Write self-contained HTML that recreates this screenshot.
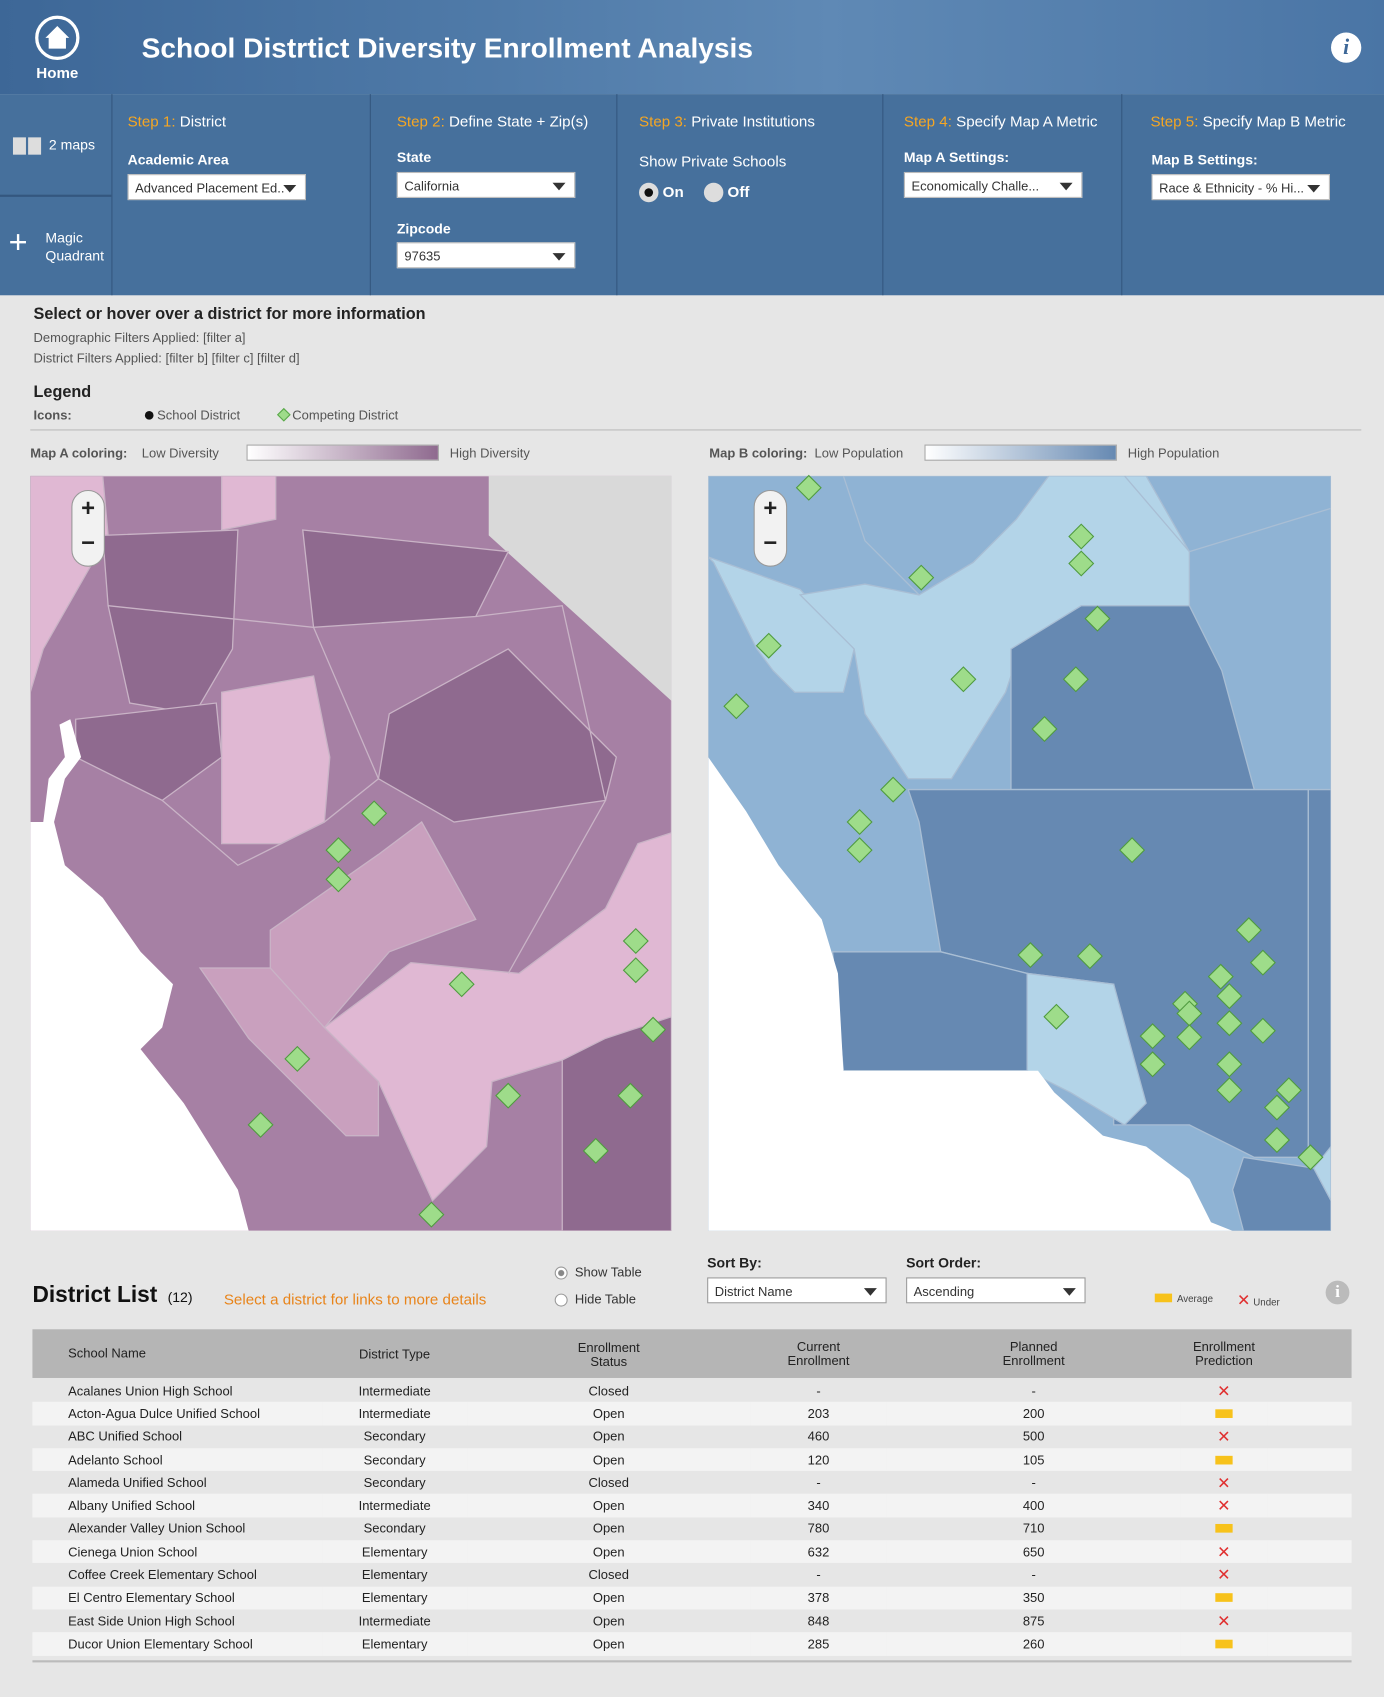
<!DOCTYPE html>
<html><head><meta charset="utf-8"><style>
*{box-sizing:border-box;margin:0;padding:0}
body{width:1384px;height:1697px;overflow:hidden;background:#e6e6e6;font-family:"Liberation Sans",sans-serif}
#wrap{position:absolute;left:0;top:0;width:1280px;height:1569px;transform:scale(1.08125,1.0816);transform-origin:0 0;background:#e6e6e6}
.abs{position:absolute}
.hdr{left:0;top:0;width:1280px;height:87px;background:linear-gradient(90deg,#3d6797 0%,#4f7aa8 35%,#5f89b5 60%,#4a75a5 100%)}
.tb{left:0;top:87px;width:1280px;height:186px;background:#46709c}
.vd{position:absolute;top:87px;width:1px;height:186px;background:#34577f}
.step{position:absolute;top:104px;color:#fff;font-size:14px}
.step b{color:#f5a623;font-weight:normal}
.lbl{position:absolute;color:#fff;font-size:13px;font-weight:bold}
.dd{position:absolute;background:#fff;border:1px solid #bbb;height:24px;font-size:12px;color:#333;padding:5px 6px;white-space:nowrap;overflow:hidden}
.dd:after{content:"";position:absolute;right:8px;top:9px;border-left:6px solid transparent;border-right:6px solid transparent;border-top:7px solid #333}
.t{position:absolute;font-size:13px;color:#333;white-space:nowrap}
table{border-collapse:collapse;width:1220px;font-size:12px;color:#222;table-layout:fixed}
td{height:21.3px;text-align:center;padding:0}
td:first-child{text-align:left;padding-left:33px}
tr:nth-child(even) td{background:#f3f3f3}
</style></head><body><div id="wrap">
<div class="abs hdr"></div>
<div class="abs" style="left:30px;top:14px;width:46px;height:60px;color:#fff;text-align:center">
<svg width="42" height="42" viewBox="0 0 42 42"><circle cx="21" cy="21" r="19" fill="none" stroke="#fff" stroke-width="3"/><path d="M10 21 L21 10 L32 21 L29 21 L29 31 L13 31 L13 21Z" fill="#fff"/></svg>
<div style="font-size:14px;font-weight:bold;margin-top:-2px">Home</div></div>
<div class="abs" style="left:131px;top:29px;color:#fff;font-size:26px;font-weight:bold">School Distrtict Diversity Enrollment Analysis</div>
<div class="abs" style="left:1231px;top:30px;width:28px;height:28px;border-radius:50%;background:#fff;color:#3d6797;font:italic bold 20px 'Liberation Serif',serif;text-align:center;line-height:28px">i</div>
<div class="abs tb"></div>
<div class="vd" style="left:103px"></div><div class="vd" style="left:342px"></div><div class="vd" style="left:570px"></div><div class="vd" style="left:816px"></div><div class="vd" style="left:1037px"></div>
<div class="abs" style="left:0;top:180px;width:103px;height:2px;background:#34577f"></div>
<div class="abs" style="left:12px;top:126px;color:#fff;font-size:13px"><span style="display:inline-block;width:12px;height:16px;background:#ddd;vertical-align:middle"></span><span style="display:inline-block;width:12px;height:16px;background:#ddd;margin-left:2px;vertical-align:middle"></span>&nbsp; 2 maps</div>
<div class="abs" style="left:8px;top:211px;color:#fff;font-size:13px;line-height:17px"><span style="position:absolute;left:0;top:4px;font-size:30px;font-weight:lighter;line-height:20px">+</span><div style="margin-left:34px">Magic<br>Quadrant</div></div>
<div class="step" style="left:118px"><b>Step 1:</b> District</div>
<div class="lbl" style="left:118px;top:140px">Academic Area</div>
<div class="dd" style="left:118px;top:161px;width:165px">Advanced Placement Ed..</div>
<div class="step" style="left:367px"><b>Step 2:</b> Define State + Zip(s)</div>
<div class="lbl" style="left:367px;top:138px">State</div>
<div class="dd" style="left:367px;top:159px;width:165px">California</div>
<div class="lbl" style="left:367px;top:204px">Zipcode</div>
<div class="dd" style="left:367px;top:224px;width:165px">97635</div>
<div class="step" style="left:591px"><b>Step 3:</b> Private Institutions</div>
<div class="t" style="left:591px;top:141px;color:#fff;font-size:14px">Show Private Schools</div>
<div class="abs" style="left:591px;top:169px;color:#fff;font-size:14px;font-weight:bold"><span style="display:inline-block;width:18px;height:18px;border-radius:50%;background:#ddd;vertical-align:middle;position:relative"><span style="position:absolute;left:5px;top:5px;width:8px;height:8px;border-radius:50%;background:#111"></span></span> On</div>
<div class="abs" style="left:651px;top:169px;color:#fff;font-size:14px;font-weight:bold"><span style="display:inline-block;width:18px;height:18px;border-radius:50%;background:#ddd;vertical-align:middle"></span> Off</div>
<div class="step" style="left:836px"><b>Step 4:</b> Specify Map A Metric</div>
<div class="lbl" style="left:836px;top:138px">Map A Settings:</div>
<div class="dd" style="left:836px;top:159px;width:165px">Economically Challe...</div>
<div class="step" style="left:1064px"><b>Step 5:</b> Specify Map B Metric</div>
<div class="lbl" style="left:1065px;top:140px">Map B Settings:</div>
<div class="dd" style="left:1065px;top:161px;width:165px">Race &amp; Ethnicity - % Hi...</div>

<div class="t" style="left:31px;top:282px;font-size:15px;font-weight:bold;color:#222">Select or hover over a district for more information</div>
<div class="t" style="left:31px;top:305px;font-size:12px;color:#555">Demographic Filters Applied: [filter a]</div>
<div class="t" style="left:31px;top:324px;font-size:12px;color:#555">District Filters Applied: [filter b] [filter c] [filter d]</div>
<div class="t" style="left:31px;top:354px;font-size:15px;font-weight:bold;color:#222">Legend</div>
<div class="t" style="left:31px;top:377px;font-size:12px;font-weight:bold;color:#555">Icons:</div>
<div class="t" style="left:134px;top:377px;font-size:12px;color:#555"><span style="display:inline-block;width:8px;height:8px;border-radius:50%;background:#111"></span> School District</div>
<div class="t" style="left:258px;top:377px;font-size:12px;color:#555"><span style="display:inline-block;width:9px;height:9px;background:#9edc8a;border:1px solid #5aa84a;transform:rotate(45deg)"></span> Competing District</div>
<div class="abs" style="left:28px;top:397px;width:1231px;height:1px;background:#bbb"></div>
<div class="t" style="left:28px;top:412px;font-size:12px;color:#555"><b>Map A coloring:</b> &nbsp;&nbsp; Low Diversity</div>
<div class="abs" style="left:228px;top:411px;width:178px;height:15px;border:1px solid #aaa;background:linear-gradient(90deg,#fff,#8f6a8f)"></div>
<div class="t" style="left:416px;top:412px;font-size:12px;color:#555">High Diversity</div>
<div class="t" style="left:656px;top:412px;font-size:12px;color:#555"><b>Map B coloring:</b> &nbsp;Low Population</div>
<div class="abs" style="left:855px;top:411px;width:178px;height:15px;border:1px solid #aaa;background:linear-gradient(90deg,#fff,#6689b2)"></div>
<div class="t" style="left:1043px;top:412px;font-size:12px;color:#555">High Population</div>

<svg class="abs" style="left:0;top:0" width="1280" height="1569" id="maps">
<defs><clipPath id="ca"><rect x="28" y="440" width="593" height="698"/></clipPath><clipPath id="cb"><rect x="655" y="440" width="576" height="698"/></clipPath></defs>
<g clip-path="url(#ca)" stroke="#c9b3c6" stroke-width="1.2">
<rect x="28" y="440" width="593" height="698" fill="#a680a4"/>
<polygon fill="#d9d9d9" stroke="none" points="452,440 621,440 621,648 452,495"/>
<polygon fill="#e0b8d3" points="28,440 95,440 100,495 40,600 28,640"/>
<polygon fill="#e0b8d3" points="205,440 255,440 255,480 205,490"/>
<polygon fill="#8f6a8f" points="95,495 220,490 215,600 180,660 120,650 100,560"/>
<polygon fill="#8f6a8f" points="280,490 470,510 440,570 290,580"/>
<polygon fill="#8f6a8f" points="360,660 470,600 570,700 560,740 420,760 350,720"/>
<polygon fill="#8f6a8f" points="70,665 200,650 205,700 150,740 70,700"/>
<polygon fill="#8f6a8f" points="520,960 621,940 621,1138 520,1138"/>
<polygon fill="#e0b8d3" points="205,640 290,625 305,700 300,760 260,780 205,780"/>
<polygon fill="#e0b8d3" points="300,950 380,890 480,900 560,840 590,780 621,770 621,940 560,960 520,980 455,1000 450,1060 400,1110 350,1000"/>
<polygon fill="#c9a0be" points="250,860 350,790 390,760 440,850 360,880 300,950 250,900"/>
<polygon fill="#c9a0be" points="185,895 250,895 300,950 350,1000 350,1050 320,1050 230,960"/>
<polyline fill="none" points="100,560 290,580 350,720 300,760 220,800 150,740"/>
<polyline fill="none" points="440,570 520,560 560,740 470,900"/>
<polygon fill="#fff" stroke="none" points="28,760 40,760 45,720 60,700 55,670 65,665 75,700 60,720 50,760 60,800 95,830 130,880 160,910 150,950 130,970 170,1020 220,1100 230,1138 28,1138"/>
</g>
<g clip-path="url(#cb)" stroke="#a9bed4" stroke-width="1.2">
<rect x="655" y="440" width="576" height="698" fill="#8fb3d4"/>
<polygon fill="#b3d4e8" points="655,515 740,545 790,600 780,640 735,640 715,620 700,600 660,520"/>
<polygon fill="#b3d4e8" points="740,550 800,540 850,550 900,520 940,480 970,440 1060,440 1100,510 1100,560 1030,560 970,580 940,610 930,640 880,720 840,720 800,660 790,600"/>
<polygon fill="#6689b2" points="935,600 1000,560 1100,560 1130,620 1160,730 935,730"/>
<polygon fill="#6689b2" points="840,730 1210,730 1210,1070 1160,1070 1100,1040 1030,1040 1030,910 950,900 870,880 850,760"/>
<polygon fill="#6689b2" points="770,880 870,880 950,900 950,990 780,990"/>
<polygon fill="#b3d4e8" points="950,900 1030,910 1060,1020 1040,1040 990,1010 950,990"/>
<polygon fill="#6689b2" points="1210,730 1231,730 1231,1070 1210,1070"/>
<polygon fill="#6689b2" points="1150,1070 1215,1080 1231,1110 1231,1138 1150,1138 1140,1100"/>
<polygon fill="#b3d4e8" points="1215,1080 1231,1060 1231,1110"/>
<polyline fill="none" points="780,440 800,500 850,550"/>
<polyline fill="none" points="1040,440 1100,510 1231,470"/>
<polygon fill="#fff" stroke="none" points="655,700 690,750 720,800 760,850 775,900 780,990 870,990 960,990 975,1010 1020,1050 1060,1060 1100,1090 1120,1130 1140,1138 655,1138"/>
</g>
<g id="markersA"></g><g id="markersB"></g>
</svg>
<div class="abs" style="left:66px;top:453px;width:31px;height:71px;border-radius:16px;background:#f2f2f2;border:1px solid #999;text-align:center;font-size:22px;font-weight:bold;line-height:32px;color:#222">+<br>−</div>
<div class="abs" style="left:697px;top:453px;width:31px;height:71px;border-radius:16px;background:#f2f2f2;border:1px solid #999;text-align:center;font-size:22px;font-weight:bold;line-height:32px;color:#222">+<br>−</div>

<div class="t" style="left:30px;top:1186px;font-size:21px;font-weight:bold;color:#111">District List <span style="font-size:13px;font-weight:normal">&nbsp;(12)</span></div>
<div class="t" style="left:207px;top:1193px;font-size:14px;color:#e8841a">Select a district for links to more details</div>
<div class="t" style="left:513px;top:1169px;font-size:12px"><span style="display:inline-block;width:12px;height:12px;border-radius:50%;border:1px solid #999;background:radial-gradient(#888 35%,#fff 45%);vertical-align:middle"></span>&nbsp; Show Table</div>
<div class="t" style="left:513px;top:1194px;font-size:12px"><span style="display:inline-block;width:12px;height:12px;border-radius:50%;border:1px solid #999;background:#fff;vertical-align:middle"></span>&nbsp; Hide Table</div>
<div class="t" style="left:654px;top:1160px;font-weight:bold;font-size:13px;color:#222">Sort By:</div>
<div class="dd" style="left:654px;top:1181px;width:166px;border-color:#999">District Name</div>
<div class="t" style="left:838px;top:1160px;font-weight:bold;font-size:13px;color:#222">Sort Order:</div>
<div class="dd" style="left:838px;top:1181px;width:166px;border-color:#999">Ascending</div>
<div class="t" style="left:1068px;top:1196px;font-size:9px;color:#444"><span style="display:inline-block;width:16px;height:8px;background:#f7c21b"></span>&nbsp; Average</div>
<div class="t" style="left:1144px;top:1193px;font-size:9px;color:#444"><span style="color:#e03030;font-size:15px">✕</span> Under</div>
<div class="abs" style="left:1226px;top:1184px;width:22px;height:22px;border-radius:50%;background:#bbb;color:#fff;text-align:center;font:bold 16px/22px 'Liberation Serif',serif">i</div>
<div class="abs" style="left:30px;top:1229px;width:1220px;height:45px;background:#b5b5b5;font-size:12px;color:#222">
<div class="abs" style="left:33px;top:15px">School Name</div>
<div class="abs" style="left:302px;top:16px">District Type</div>
<div class="abs" style="left:483px;top:11px;width:100px;text-align:center;line-height:13px">Enrollment<br>Status</div>
<div class="abs" style="left:677px;top:10px;width:100px;text-align:center;line-height:13px">Current<br>Enrollment</div>
<div class="abs" style="left:876px;top:10px;width:100px;text-align:center;line-height:13px">Planned<br>Enrollment</div>
<div class="abs" style="left:1052px;top:10px;width:100px;text-align:center;line-height:13px">Enrollment<br>Prediction</div></div>
<div class="abs" style="left:30px;top:1275px"><table id="tbl"><colgroup><col style="width:268px"><col style="width:134px"><col style="width:262px"><col style="width:126px"><col style="width:272px"><col style="width:80px"><col style="width:78px"></colgroup><tbody></tbody></table></div>
<div class="abs" style="left:30px;top:1535px;width:1220px;height:2px;background:#bbb"></div>
</div>
<script>
const markersAx=[346,313,313,427,588,588,604,275,241,470,583,551,399];
const markersAy=[752,786,813,910,870,897,952,979,1040,1013,1013,1064,1123];
const markersBx=[748,1000,1000,852,1015,711,681,891,995,966,826,795,795,1047,1155,1168,953,1008,1129,1137,1096,1100,977,1137,1168,1066,1100,1066,1137,1137,1192,1181,1181,1212];
const markersBy=[451,496,521,534,572,597,653,628,628,674,730,760,786,786,860,890,883,884,903,921,928,937,940,946,953,958,959,984,984,1008,1008,1024,1054,1070];
const schools=["Acalanes Union High School","Acton-Agua Dulce Unified School","ABC Unified School","Adelanto School","Alameda Unified School","Albany Unified School","Alexander Valley Union School","Cienega Union School","Coffee Creek Elementary School","El Centro Elementary School","East Side Union High School","Ducor Union Elementary School"];
const types=["Intermediate","Intermediate","Secondary","Secondary","Secondary","Intermediate","Secondary","Elementary","Elementary","Elementary","Intermediate","Elementary"];
const status=["Closed","Open","Open","Open","Closed","Open","Open","Open","Closed","Open","Open","Open"];
const current=["-","203","460","120","-","340","780","632","-","378","848","285"];
const planned=["-","200","500","105","-","400","710","650","-","350","875","260"];
const prediction=["under","average","under","average","under","under","average","under","under","average","under","average"];
const NS="http://www.w3.org/2000/svg";
function drawMarkers(gid,xs,ys,name){const g=document.getElementById(gid);
for(let i=0;i<xs.length;i++){const p=document.createElementNS(NS,'rect');
p.setAttribute('x',xs[i]-8);p.setAttribute('y',ys[i]-8);p.setAttribute('width',16);p.setAttribute('height',16);
p.setAttribute('transform','rotate(45 '+xs[i]+' '+ys[i]+')');p.setAttribute('fill','#9edc8a');p.setAttribute('stroke','#4f9b3f');


g.appendChild(p);}}
drawMarkers('markersA',markersAx,markersAy,'competing-district-marker-a');
drawMarkers('markersB',markersBx,markersBy,'competing-district-marker-b');
const tb=document.querySelector('#tbl tbody');
for(let i=0;i<schools.length;i++){const tr=document.createElement('tr');


const icon=prediction[i]==='under'?'<span style="color:#e03030;font-size:15px">✕</span>':'<span style="display:inline-block;width:16px;height:8px;background:#f7c21b"></span>';
tr.innerHTML='<td>'+schools[i]+'</td><td>'+types[i]+'</td><td>'+status[i]+'</td><td>'+current[i]+'</td><td>'+planned[i]+'</td><td>'+icon+'</td><td></td>';
tb.appendChild(tr);}
</script>
</body></html>
